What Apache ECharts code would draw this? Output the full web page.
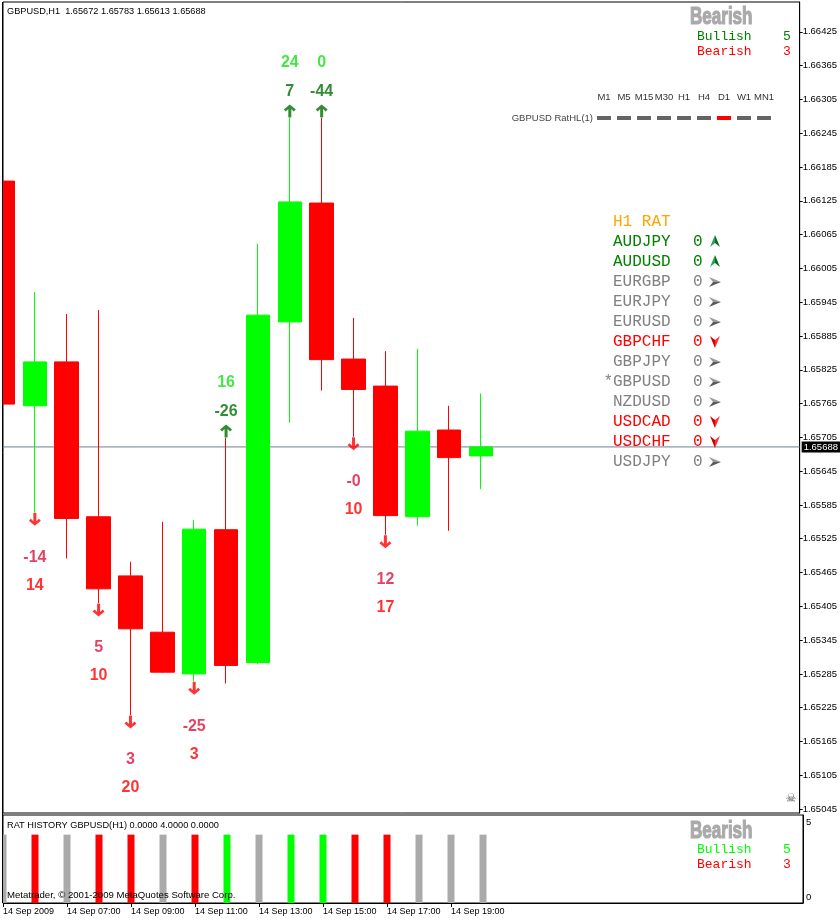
<!DOCTYPE html>
<html><head><meta charset="utf-8">
<script src="https://cdn.jsdelivr.net/npm/echarts@6/dist/echarts.min.js"></script>
<style>html,body{margin:0;padding:0;background:#fff}#c{width:840px;height:920px}</style>
</head><body><div id="c"></div>
<script>
// ---------- data ----------
const barTimes = ['05:00','06:00','07:00','08:00','09:00','10:00','11:00','12:00','13:00','14:00','15:00','16:00','17:00','18:00','19:00','20:00'];
const openP  = [1.66160,1.65761,1.65839,1.65564,1.65459,1.65359,1.65285,1.65541,1.65305,1.65910,1.66121,1.65844,1.65796,1.65564,1.65718,1.65672];
const highP  = [1.66199,1.65963,1.65924,1.65931,1.65484,1.65555,1.65558,1.65704,1.66049,1.66272,1.66272,1.65917,1.65858,1.65862,1.65761,1.65783];
const lowP   = [1.65697,1.65572,1.65490,1.65411,1.65212,1.65287,1.65272,1.65268,1.65303,1.65731,1.65788,1.65706,1.65532,1.65548,1.65539,1.65613];
const closeP = [1.65764,1.65839,1.65561,1.65436,1.65365,1.65288,1.65542,1.65300,1.65922,1.66123,1.65843,1.65790,1.65566,1.65716,1.65669,1.65688];

const priceTicks = ['1.66425','1.66365','1.66305','1.66245','1.66185','1.66125','1.66065','1.66005','1.65945','1.65885','1.65825','1.65765','1.65705','1.65645','1.65585','1.65525','1.65465','1.65405','1.65345','1.65285','1.65225','1.65165','1.65105','1.65045'];
const timeTickIdx = [0,2,4,6,8,10,12,14];
const timeTickLabels = ['14 Sep 2009','14 Sep 07:00','14 Sep 09:00','14 Sep 11:00','14 Sep 13:00','14 Sep 15:00','14 Sep 17:00','14 Sep 19:00'];

const signalIdx  = [1,3,4,6,7,9,10,11,12];
const signalDir  = [-1,-1,-1,-1,1,1,1,-1,-1];
const signalNear = ['-14','5','3','-25','-26','7','-44','-0','12'];
const signalFar  = ['14','10','20','3','16','24','0','10','17'];

const histValue = [4,4,4,4,4,4,4,4,4,4,4,4,4,4,4,4];
const histState = [0,-1,0,-1,-1,0,-1,1,0,1,1,-1,-1,0,0,0];

const ratPairs  = ['AUDJPY','AUDUSD','EURGBP','EURJPY','EURUSD','GBPCHF','GBPJPY','GBPUSD','NZDUSD','USDCAD','USDCHF','USDJPY'];
const ratValues = [0,0,0,0,0,0,0,0,0,0,0,0];
const ratTrend  = [1,1,0,0,0,-1,0,0,0,-1,-1,0];
const currentPair = 'GBPUSD';

const tfLabels = ['M1','M5','M15','M30','H1','H4','D1','W1','MN1'];
const tfState  = [0,0,0,0,0,0,-1,0,0];

const bullCount = 5, bearCount = 3;
const panelTicks = ['5','0'];
const headerText = 'GBPUSD,H1  1.65672 1.65783 1.65613 1.65688';
const histTitle = 'RAT HISTORY GBPUSD(H1) 0.0000 4.0000 0.0000';
const copyright = 'Metatrader, \u00a9 2001-2009 MetaQuotes Software Corp.';
const indicatorName = 'GBPUSD RatHL(1)';

// ---------- layout ----------
const emptySlots = 10;
const cats = barTimes.concat(new Array(emptySlots).fill(''));
const yMin = 1.65038, yMax = 1.66478;
const lastClose = closeP[closeP.length - 1];
const SANS = '"Liberation Sans", Arial, sans-serif';
const MONO = '"Liberation Mono", "Courier New", monospace';

const downArrow = 'path://M4.5,0 H7.5 V8.5 L10,6 L12,8 L6,13 L0,8 L2,6 L4.5,8.5 Z';
const upArrow   = 'path://M4.5,13 H7.5 V4.5 L10,7 L12,5 L6,0 L0,5 L2,7 L4.5,4.5 Z';

const candleData = barTimes.map((t, i) => [openP[i], closeP[i], lowP[i], highP[i]]);

const arrowData = [], nearData = [], farData = [];
signalIdx.forEach((idx, k) => {
  const up = signalDir[k] > 0;
  const p = up ? highP[idx] : lowP[idx];
  arrowData.push({ value: [idx, p], symbol: up ? upArrow : downArrow,
    symbolOffset: [0, up ? -7 : 7], itemStyle: { color: up ? '#006e00' : '#ff0000' } });
  nearData.push({ value: [idx, p], label: { formatter: signalNear[k], offset: [0, up ? -26 : 45],
    color: up ? '#007000' : '#dc143c' } });
  farData.push({ value: [idx, p], label: { formatter: signalFar[k], offset: [0, up ? -55 : 73],
    color: up ? '#18e018' : '#ff0000' } });
});

const histData = histValue.map((v, i) => ({ value: v,
  itemStyle: { color: histState[i] > 0 ? '#00ff00' : (histState[i] < 0 ? '#ff0000' : '#aaaaaa') } }));

const tickLabelMap = {};
timeTickIdx.forEach((ix, k) => tickLabelMap[ix] = timeTickLabels[k]);
const showTick = (index) => tickLabelMap.hasOwnProperty(index);

// ---------- graphics ----------
const g = [];
function txt(x, y, text, font, fill, align, extra) {
  const el = { type: 'text', x: x, y: y, z: 100, silent: true,
    style: { text: text, font: font, fill: fill, textAlign: align || 'left', textVerticalAlign: 'middle' } };
  if (extra) {
    Object.keys(extra).forEach(k => {
      if (k === 'style') Object.assign(el.style, extra.style); else el[k] = extra[k];
    });
  }
  g.push(el);
}
function bigTitle(x, y) {
  txt(x, y, 'Bearish', 'bold 24px "Liberation Sans Narrow", ' + SANS, '#a9a9a9', 'left',
    { scaleX: 0.71, style: { stroke: '#a9a9a9', lineWidth: 1.2 } });
}
// arrowhead glyph (pointing right in local coords, 12x10), two shaded halves
function arrowHead(cx, cy, rot, light, dark) {
  const a = [[-6, -5], [6, 0], [-2, 0]], b = [[-6, 5], [6, 0], [-2, 0]];
  g.push({ type: 'polygon', x: cx, y: cy, rotation: rot, z: 100, silent: true, shape: { points: a }, style: { fill: light } });
  g.push({ type: 'polygon', x: cx, y: cy, rotation: rot, z: 100, silent: true, shape: { points: b }, style: { fill: dark } });
}
// clip the part of the left-most bars that lies outside the plot
g.push({ type: 'rect', z: 90, silent: true, shape: { x: 0, y: 0, width: 2.5, height: 920 }, style: { fill: '#fff' } });
g.push({ type: 'line', z: 91, silent: true, shape: { x1: 2.5, y1: 2, x2: 2.5, y2: 903 }, style: { stroke: '#000', lineWidth: 1 } });

txt(7, 11, headerText, '9.2px ' + SANS, '#000');
// top right summary
bigTitle(690, 17);
txt(697, 37, 'Bullish', '13px ' + MONO, '#008000');
txt(787, 37, String(bullCount), '13px ' + MONO, '#008000', 'center');
txt(697, 52, 'Bearish', '13px ' + MONO, '#ff0000');
txt(787, 52, String(bearCount), '13px ' + MONO, '#ff0000', 'center');
// timeframes
tfLabels.forEach((l, i) => {
  txt(604 + 20 * i, 97, l, '9.5px ' + SANS, '#333', 'center');
  g.push({ type: 'rect', z: 100, silent: true, shape: { x: 597 + 20 * i, y: 116, width: 14, height: 4 },
    style: { fill: tfState[i] < 0 ? '#ff0000' : '#646464' } });
});
txt(593, 118, indicatorName, '9.5px ' + SANS, '#444', 'right');
// RAT table
txt(613, 222, 'H1 RAT', '16px ' + MONO, '#ffa500');
ratPairs.forEach((p, i) => {
  const y = 242 + 20 * i;
  const col = ratTrend[i] > 0 ? '#008000' : (ratTrend[i] < 0 ? '#ff0000' : '#808080');
  const label = (p === currentPair ? '*' : '') + p;
  txt(p === currentPair ? 603.4 : 613, y, label, '16px ' + MONO, col);
  txt(693, y, String(ratValues[i]), '16px ' + MONO, col);
  if (ratTrend[i] > 0) arrowHead(715, y - 1, Math.PI / 2, '#2f9f5f', '#0b6b1b');
  else if (ratTrend[i] < 0) arrowHead(715, y, -Math.PI / 2, '#ff3030', '#d00000');
  else arrowHead(715, y, 0, '#9a9a9a', '#5a5a5a');
});
// skull
txt(791, 799, '\u2620', '12px "DejaVu Sans"', '#555', 'center');
// indicator panel texts
txt(7, 825, histTitle, '9.2px ' + SANS, '#000');
txt(7, 895, copyright, '9.6px ' + SANS, '#000');
bigTitle(690, 831);
txt(697, 850, 'Bullish', '13px ' + MONO, '#00ff00');
txt(787, 850, String(bullCount), '13px ' + MONO, '#00ff00', 'center');
txt(697, 865, 'Bearish', '13px ' + MONO, '#ff0000');
txt(787, 865, String(bearCount), '13px ' + MONO, '#ff0000', 'center');
txt(806, 822, panelTicks[0], '9.5px ' + SANS, '#000');
txt(806, 897, panelTicks[1], '9.5px ' + SANS, '#000');

// ---------- chart ----------
const chart = echarts.init(document.getElementById('c'), null, { renderer: 'canvas' });
chart.setOption({
  animation: false,
  backgroundColor: '#fff',
  grid: [
    { left: 3, right: 37, top: 2, height: 811, show: true, borderColor: '#000', borderWidth: 1, backgroundColor: '#fff' },
    { left: 3, right: 37, top: 815, height: 88, show: true, borderColor: '#000', borderWidth: 1, backgroundColor: '#fff' }
  ],
  xAxis: [
    { type: 'category', gridIndex: 0, data: cats, boundaryGap: false, show: false },
    { type: 'category', gridIndex: 1, data: cats, boundaryGap: false,
      axisLine: { show: true, lineStyle: { color: '#000' } },
      axisTick: { show: true, length: 4, interval: showTick, lineStyle: { color: '#000' } },
      axisLabel: { show: true, interval: showTick, align: 'left', margin: 4, color: '#000',
        fontSize: 9, fontFamily: 'Liberation Sans', formatter: (v, i) => tickLabelMap[i] || '' },
      splitLine: { show: false } }
  ],
  yAxis: [
    { type: 'value', gridIndex: 0, position: 'right', min: yMin, max: yMax, scale: true,
      axisLine: { show: true, lineStyle: { color: '#000' } },
      axisTick: { show: true, length: 3, customValues: priceTicks.map(Number), lineStyle: { color: '#000' } },
      axisLabel: { show: true, customValues: priceTicks.map(Number), margin: 3, color: '#000', fontSize: 9.5,
        fontFamily: 'Liberation Sans', formatter: v => v.toFixed(5) },
      splitLine: { show: false } },
    { type: 'value', gridIndex: 1, position: 'right', min: 0, max: 5.15,
      axisLine: { show: true, lineStyle: { color: '#000' } }, axisTick: { show: false },
      axisLabel: { show: false }, splitLine: { show: false } }
  ],
  graphic: g,
  series: [
    { type: 'line', xAxisIndex: 0, yAxisIndex: 0, data: [[0, lastClose], [cats.length - 1, lastClose]],
      symbol: 'none', silent: true, z: 1, lineStyle: { color: '#708090', width: 1 },
      endLabel: { show: true, formatter: lastClose.toFixed(5), backgroundColor: '#000', color: '#fff',
        fontSize: 9.5, fontFamily: 'Liberation Sans', padding: [1, 3, 0, 2], distance: 2 } },
    { type: 'candlestick', xAxisIndex: 0, yAxisIndex: 0, data: candleData, barWidth: 24, clip: true, z: 2,
      itemStyle: { color: '#00ff00', color0: '#ff0000', borderColor: '#00ff00', borderColor0: '#ff0000', borderWidth: 1 } },
    { type: 'scatter', xAxisIndex: 0, yAxisIndex: 0, data: arrowData, symbolSize: [12, 13], z: 5, silent: true },
    { type: 'scatter', xAxisIndex: 0, yAxisIndex: 0, data: nearData, symbolSize: 1, z: 6, silent: true,
      itemStyle: { color: 'rgba(0,0,0,0)' },
      label: { show: true, position: 'inside', fontSize: 16, fontWeight: 'bold', fontFamily: 'Liberation Sans' } },
    { type: 'scatter', xAxisIndex: 0, yAxisIndex: 0, data: farData, symbolSize: 1, z: 6, silent: true,
      itemStyle: { color: 'rgba(0,0,0,0)' },
      label: { show: true, position: 'inside', fontSize: 16, fontWeight: 'bold', fontFamily: 'Liberation Sans' } },
    { type: 'bar', xAxisIndex: 1, yAxisIndex: 1, data: histData, barWidth: 7, clip: true, silent: true }
  ]
});
</script>
</body></html>
